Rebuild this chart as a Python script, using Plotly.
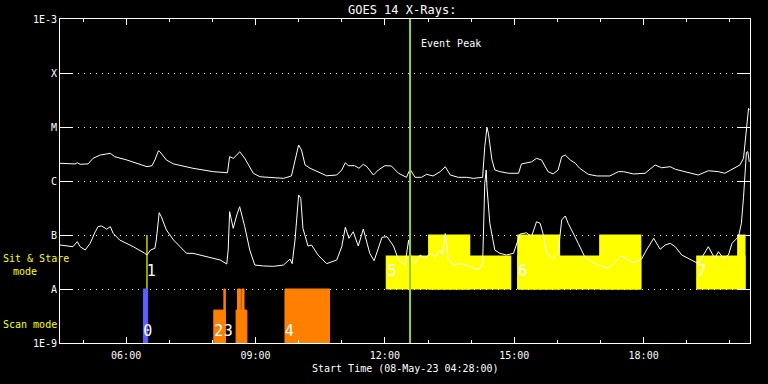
import plotly.graph_objects as go
import pandas as pd

DAY = "2023-05-08 "
FONT = "DejaVu Sans Mono"

# ---- GOES long channel (1-8 A), W/m^2 ----
long_t = ["04:28", "04:49", "04:52", "04:56", "05:07", "05:14", "05:24", "05:38", "05:44", "06:01",
          "06:29", "06:36", "06:40", "06:45", "06:47", "06:56", "07:06", "07:33", "08:01", "08:20",
          "08:21", "08:24", "08:29", "08:34", "08:38", "08:45", "08:57", "09:06", "09:25", "09:39",
          "09:50", "09:55", "10:00", "10:04", "10:09", "10:16", "10:30", "10:39", "10:53", "11:00",
          "11:05", "11:09", "11:18", "11:24", "11:30", "11:35", "11:44", "11:51", "12:00", "12:09",
          "12:19", "12:28", "12:30", "12:35", "12:42", "12:51", "12:58", "13:07", "13:17", "13:24",
          "13:31", "13:42", "13:54", "14:03", "14:16", "14:19", "14:22", "14:24", "14:29", "14:33",
          "14:40", "14:52", "15:06", "15:10", "15:19", "15:24", "15:31", "15:38", "15:47", "15:54",
          "16:01", "16:06", "16:11", "16:18", "16:25", "16:31", "16:43", "16:55", "17:13", "17:25",
          "17:32", "17:46", "18:02", "18:16", "18:25", "18:37", "18:44", "18:58", "19:16", "19:30",
          "19:44", "19:53", "20:03", "20:14", "20:19", "20:21", "20:23", "20:26", "20:27"]
long_f = [2.13e-6, 2.07e-6, 2.18e-6, 2.04e-6, 2.07e-6, 2.63e-6, 3.03e-6, 3.26e-6, 2.82e-6, 2.45e-6,
          1.84e-6, 1.92e-6, 2.45e-6, 3.64e-6, 3.49e-6, 2.45e-6, 2.07e-6, 1.72e-6, 1.49e-6, 1.39e-6,
          1.42e-6, 2.82e-6, 2.63e-6, 3.03e-6, 3.49e-6, 2.63e-6, 1.39e-6, 1.20e-6, 1.17e-6, 1.12e-6,
          1.24e-6, 2.45e-6, 4.64e-6, 3.75e-6, 1.98e-6, 1.72e-6, 1.39e-6, 1.25e-6, 1.29e-6, 1.60e-6,
          2.18e-6, 1.92e-6, 1.92e-6, 1.72e-6, 2.04e-6, 1.84e-6, 1.29e-6, 1.60e-6, 1.92e-6, 1.90e-6,
          1.39e-6, 1.24e-6, 1.17e-6, 1.65e-6, 1.17e-6, 1.17e-6, 1.33e-6, 1.24e-6, 1.49e-6, 1.84e-6,
          1.29e-6, 1.17e-6, 1.17e-6, 1.12e-6, 1.17e-6, 4.32e-6, 9.87e-6, 7.64e-6, 2.45e-6, 1.60e-6,
          1.49e-6, 1.39e-6, 1.39e-6, 2.07e-6, 2.22e-6, 2.26e-6, 2.63e-6, 2.45e-6, 1.49e-6, 1.35e-6,
          1.60e-6, 2.82e-6, 3.03e-6, 2.45e-6, 2.13e-6, 1.72e-6, 1.33e-6, 1.24e-6, 1.24e-6, 1.49e-6,
          1.49e-6, 1.35e-6, 1.39e-6, 1.98e-6, 1.76e-6, 1.84e-6, 1.65e-6, 1.49e-6, 1.29e-6, 1.55e-6,
          1.49e-6, 1.39e-6, 1.65e-6, 1.98e-6, 2.63e-6, 4.5e-6, 1.01e-5, 2.22e-5, 2.07e-5]

# ---- GOES short channel (0.5-4 A), W/m^2 ----
short_t = ["04:28", "04:46", "04:52", "04:56", "05:03", "05:10", "05:17", "05:21", "05:26", "05:33",
           "05:38", "05:42", "05:51", "06:10", "06:26", "06:29", "06:34", "06:40", "06:42", "06:46",
           "06:49", "06:56", "07:06", "07:24", "07:33", "07:52", "08:11", "08:20", "08:22", "08:24",
           "08:29", "08:34", "08:38", "08:45", "08:52", "08:59", "09:11", "09:25", "09:39", "09:48",
           "09:51", "09:55", "10:00", "10:03", "10:06", "10:13", "10:18", "10:27", "10:39", "10:53",
           "11:00", "11:05", "11:10", "11:16", "11:23", "11:30", "11:39", "11:45", "11:51", "11:56",
           "12:03", "12:12", "12:19", "12:25", "12:28", "12:33", "12:37", "12:42", "12:49", "12:56",
           "13:03", "13:10", "13:17", "13:20", "13:24", "13:28", "13:35", "13:47", "13:58", "14:10",
           "14:16", "14:19", "14:21", "14:22", "14:26", "14:33", "14:40", "14:49", "14:59", "15:08",
           "15:17", "15:24", "15:31", "15:36", "15:40", "15:45", "15:54", "16:01", "16:06", "16:11",
           "16:15", "16:25", "16:29", "16:38", "16:52", "17:11", "17:20", "17:29", "17:46", "17:57",
           "18:04", "18:14", "18:23", "18:30", "18:37", "18:44", "18:53", "19:07", "19:16", "19:30",
           "19:39", "19:44", "19:51", "19:58", "20:03", "20:12", "20:16", "20:19", "20:21", "20:23",
           "20:25", "20:27"]
short_f = [6.53e-8, 6.07e-8, 7.52e-8, 6.07e-8, 5.27e-8, 7.02e-8, 1.15e-7, 1.43e-7, 1.47e-7, 1.28e-7,
           1.43e-7, 1.07e-7, 8.08e-8, 6.07e-8, 4.58e-8, 4.26e-8, 5.27e-8, 5.67e-8, 8.08e-8, 2.59e-7,
           2.18e-7, 1.24e-7, 8.08e-8, 4.58e-8, 4.58e-8, 3.97e-8, 3.44e-8, 2.90e-8, 5.27e-8, 2.70e-7,
           1.33e-7, 2.35e-7, 3.34e-7, 1.43e-7, 5.27e-8, 2.78e-8, 2.67e-8, 2.63e-8, 2.78e-8, 3.59e-8,
           2.95e-8, 8.08e-8, 5.51e-7, 4.78e-7, 1.33e-7, 6.25e-8, 6.53e-8, 4.26e-8, 2.95e-8, 3.44e-8,
           6.07e-8, 1.39e-7, 8.69e-8, 1.15e-7, 6.25e-8, 1.29e-7, 4.58e-8, 3.34e-8, 5.67e-8, 9.06e-8,
           9.31e-8, 6.25e-8, 3.44e-8, 2.90e-8, 2.78e-8, 8.08e-8, 3.44e-8, 2.95e-8, 4.26e-8, 3.70e-8,
           4.58e-8, 3.97e-8, 5.27e-8, 4.26e-8, 1.07e-7, 3.70e-8, 2.78e-8, 2.95e-8, 2.63e-8, 2.25e-8,
           2.95e-8, 9.06e-7, 1.60e-6, 7.84e-7, 1.65e-7, 5.27e-8, 4.58e-8, 4.26e-8, 4.58e-8, 1.04e-7,
           1.10e-7, 9.31e-8, 1.76e-7, 1.65e-7, 1.07e-7, 4.58e-8, 3.70e-8, 4.58e-8, 1.90e-7, 2.25e-7,
           1.65e-7, 9.31e-8, 7.02e-8, 3.97e-8, 2.95e-8, 2.42e-8, 3.20e-8, 4.08e-8, 3.07e-8, 3.55e-8,
           5.27e-8, 8.69e-8, 5.43e-8, 6.53e-8, 7.02e-8, 6.07e-8, 4.26e-8, 3.34e-8, 2.95e-8, 6.07e-8,
           3.70e-8, 4.91e-8, 3.70e-8, 4.26e-8, 7.02e-8, 9.31e-8, 1.65e-7, 5.0e-7, 1.5e-6, 3.39e-6,
           3.49e-6, 2.26e-6]

# ---- observing modes ----
ss_base = 1e-8
ss_start = ["06:29", "12:02", "13:01", "15:05", "15:05", "16:59", "19:14", "20:11"]
ss_end   = ["06:29", "14:55", "13:58", "17:56", "16:03", "17:56", "20:21", "20:21"]
ss_top   = [1e-7, 4.07e-8, 1e-7, 4.07e-8, 1e-7, 1e-7, 4.07e-8, 1e-7]

scan_base = 1e-9
scan_start = ["06:24", "08:02", "08:16", "08:33", "08:35", "08:41", "09:41"]
scan_end   = ["06:30", "08:18", "08:18", "08:48", "08:39", "08:44", "10:43"]
scan_top   = [1e-8, 4.07e-9, 1e-8, 4.07e-9, 1e-8, 1e-8, 1e-8]
scan_col   = ["#5f5fff", "#ff8000", "#ff8000", "#ff8000", "#ff8000", "#ff8000", "#ff8000"]

label_txt = ["0", "1", "2", "3", "4", "5", "6", "7"]
label_t   = ["06:30", "06:35", "08:09", "08:22", "09:47", "12:10", "15:12", "19:21"]
label_y   = [1.6e-9, 2.07e-8, 1.6e-9, 1.6e-9, 1.6e-9, 2.07e-8, 2.07e-8, 2.07e-8]

peak_t = "12:35"

y_vals = [1e-9, 1e-8, 1e-7, 1e-6, 1e-5, 1e-4, 1e-3]
y_text = ["1E-9", "A", "B", "C", "M", "X", "1E-3"]


def ts(lst):
    return pd.to_datetime([DAY + t for t in lst])


fig = go.Figure()

for s, e, top in zip(ss_start, ss_end, ss_top):
    fig.add_trace(go.Scatter(x=ts([s, s, e, e, s]), y=[ss_base, top, top, ss_base, ss_base],
                             mode="lines", fill="toself", fillcolor="#ffff00",
                             line=dict(color="#ffff00", width=1.2), hoverinfo="skip"))
for s, e, top, c in zip(scan_start, scan_end, scan_top, scan_col):
    fig.add_trace(go.Scatter(x=ts([s, s, e, e, s]), y=[scan_base, top, top, scan_base, scan_base],
                             mode="lines", fill="toself", fillcolor=c,
                             line=dict(color=c, width=1), hoverinfo="skip"))

fig.add_trace(go.Scatter(x=ts(long_t), y=long_f, mode="lines", line=dict(color="white", width=1)))
fig.add_trace(go.Scatter(x=ts(short_t), y=short_f, mode="lines", line=dict(color="white", width=1)))

fig.add_trace(go.Scatter(x=ts([peak_t, peak_t]), y=[1e-9, 1e-3], mode="lines",
                         line=dict(color="#9acd32", width=2)))

fig.add_trace(go.Scatter(x=ts(label_t), y=label_y, mode="text", text=label_txt,
                         textposition="middle center",
                         textfont=dict(color="white", size=15, family=FONT)))

fig.update_layout(
    width=768, height=384, showlegend=False,
    paper_bgcolor="black", plot_bgcolor="black",
    margin=dict(l=60, r=18, t=19, b=41, autoexpand=False),
    font=dict(family=FONT, color="white", size=10),
    xaxis=dict(type="date", range=[DAY + "04:28", DAY + "20:28"],
               showline=True, linecolor="white", linewidth=1, mirror="ticks",
               ticks="inside", ticklen=6, tickcolor="white", tickwidth=1,
               dtick=3 * 3600000, tick0=DAY + "00:00", tickformat="%H:%M",
               ticklabelstandoff=3,
               tickfont=dict(size=10, color="white", family=FONT),
               showgrid=False, zeroline=False, automargin=False,
               minor=dict(dtick=3600000, tick0=DAY + "00:00", ticks="inside", ticklen=3,
                          tickcolor="white", showgrid=False)),
    yaxis=dict(type="log", range=[-9, -3], tickmode="array", tickvals=y_vals, ticktext=y_text,
               showline=True, linecolor="white", linewidth=1, mirror="ticks",
               ticks="inside", ticklen=13, tickcolor="white", tickwidth=1,
               tickfont=dict(size=10, color="white", family=FONT),
               showgrid=True, gridcolor="white", gridwidth=1, griddash="1px,5px",
               zeroline=False, automargin=False),
    annotations=[
        dict(text="GOES 14 X-Rays:", xref="paper", yref="paper", x=0.4957, y=1.0278,
             xanchor="center", yanchor="middle", showarrow=False,
             font=dict(size=12, color="white", family=FONT)),
        dict(text="Event Peak", xref="x", yref="paper", x=DAY + peak_t, y=0.9259, xshift=9,
             xanchor="left", yanchor="middle", showarrow=False,
             font=dict(size=10, color="white", family=FONT)),
        dict(text="Sit & Stare", xref="paper", yref="paper", x=-0.086, y=0.2593,
             xanchor="left", yanchor="middle", showarrow=False,
             font=dict(size=10, color="#ffff00", family=FONT)),
        dict(text="mode", xref="paper", yref="paper", x=-0.071, y=0.2222,
             xanchor="left", yanchor="middle", showarrow=False,
             font=dict(size=10, color="#ffff00", family=FONT)),
        dict(text="Scan mode", xref="paper", yref="paper", x=-0.086, y=0.0586,
             xanchor="left", yanchor="middle", showarrow=False,
             font=dict(size=10, color="#ffff00", family=FONT)),
        dict(text="Start Time (08-May-23 04:28:00)", xref="paper", yref="paper", x=0.5, y=-0.0772,
             xanchor="center", yanchor="middle", showarrow=False,
             font=dict(size=10, color="white", family=FONT)),
    ],
)

fig.write_html("out.html", config={"displayModeBar": False},
               post_script="document.body.style.margin='0';document.body.style.background='black';")
